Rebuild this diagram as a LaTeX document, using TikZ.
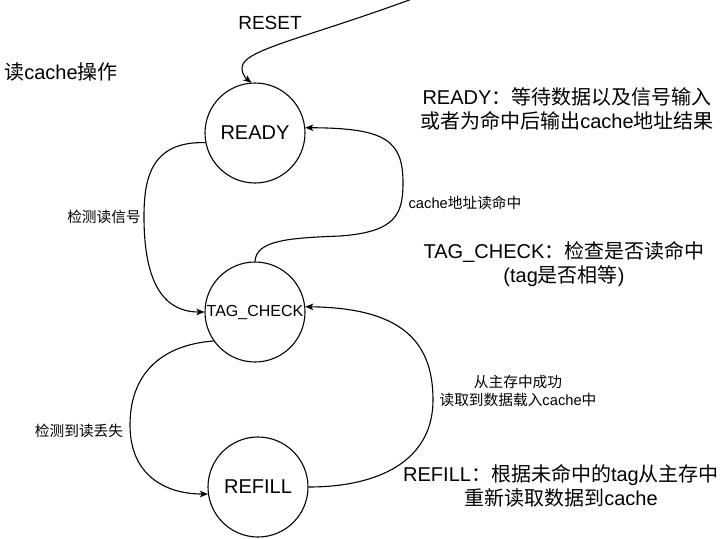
\documentclass[tikz,border=0pt]{standalone}
\usepackage{fontspec}
\setmainfont{Liberation Sans}
\newfontfamily\cjkf{Noto Sans CJK SC}
\newcommand\zh[1]{{\cjkf #1}}
\usetikzlibrary{arrows.meta}
\begin{document}
\begin{tikzpicture}[x=1pt,y=-1pt,
  state/.style={circle,draw,line width=1.1pt,minimum size=100pt,inner sep=0pt},
  big/.style={font=\fontsize{20}{24}\selectfont},
  mid/.style={font=\fontsize{16}{19}\selectfont},
  small/.style={font=\fontsize{14.7}{18}\selectfont},
  edge/.style={line width=1.1pt,-{Stealth[length=8pt,width=6.5pt,inset=2pt]}},
  txt/.style={inner sep=0pt,align=center}]
\useasboundingbox[fill=white] (0,0) rectangle (728,538);

% states
\node[state,big] (ready) at (255,133) {READY};
\node[state,mid] (tag) at (255,312) {TAG\_CHECK};
\node[state,big] (refill) at (258,487) {REFILL};

% free texts
\node[txt,font=\fontsize{19}{23}\selectfont] (resetlbl) at (270,23) {RESET};
\node[txt,big] (title) at (61,72) {\zh{读}cache\zh{操作}};
\node[txt,big] (dready) at (567,109) {READY\zh{：等待数据以及信号输入}\\\zh{或者为命中后输出}cache\zh{地址结果}};
\node[txt,big] (dtag) at (564,264) {TAG\_CHECK\zh{：检查是否读命中}\\(tag\zh{是否相等})};
\node[txt,big] (drefill) at (561,486) {REFILL\zh{：根据未命中的}tag\zh{从主存中}\\\zh{重新读取数据到}cache};

% edge labels
\node[txt,small] (l1) at (104,217) {\zh{检测读信号}};
\node[txt,small] (l2) at (79,431) {\zh{检测到读丢失}};
\node[txt,small] (l3) at (465,203) {cache\zh{地址读命中}};
\node[txt,small] (l4) at (518,391) {\zh{从主存中成功}\\\zh{读取到数据载入}cache\zh{中}};

% connectors
\coordinate (rs) at (412,-1);
\draw[edge] (rs) .. controls (300,40) and (242,50) .. (242,68) .. controls (242,76) and (248,80) .. (ready.94);
\draw[edge] (ready.191) .. controls (150,141) and (144,180) .. (144,217) .. controls (144,285) and (165,312) .. (tag.180);
\draw[edge] (tag.215) .. controls (160,345) and (130,375) .. (130,425) .. controls (130,475) and (165,494) .. (refill.188);
\draw[edge] (tag.90) .. controls (256,240) and (290,238) .. (340,236) .. controls (395,232) and (403,215) .. (403,183) .. controls (403,140) and (385,128) .. (ready.6);
\draw[edge] (refill.0) .. controls (380,487) and (433,460) .. (433,400) .. controls (433,340) and (400,308) .. (tag.6);
\end{tikzpicture}
\end{document}
